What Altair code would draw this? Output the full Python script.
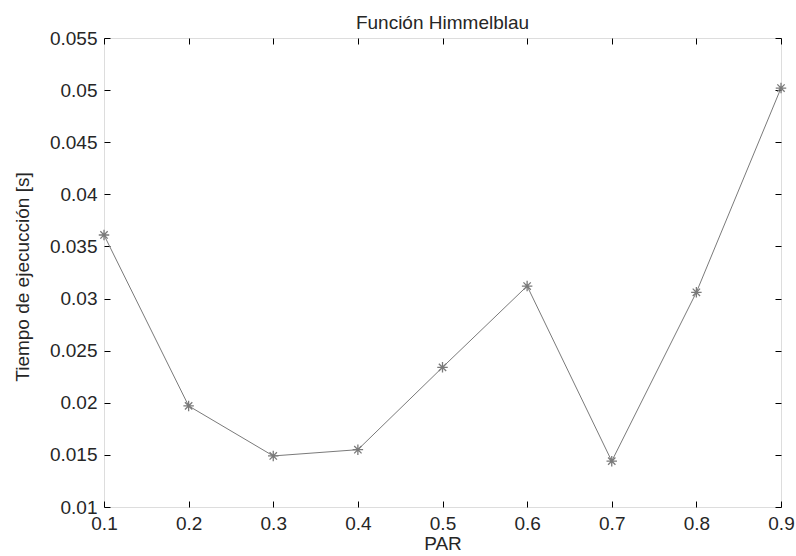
import altair as alt
import pandas as pd

# PAR parameter and measured execution time (seconds)
par = [0.1, 0.2, 0.3, 0.4, 0.5, 0.6, 0.7, 0.8, 0.9]
tiempo = [0.0361, 0.0197, 0.0149, 0.0155, 0.0234, 0.0312, 0.0144, 0.0306, 0.0502]

x_ticks = [0.1, 0.2, 0.3, 0.4, 0.5, 0.6, 0.7, 0.8, 0.9]
y_ticks = [0.01, 0.015, 0.02, 0.025, 0.03, 0.035, 0.04, 0.045, 0.05, 0.055]

df = pd.DataFrame({"par": par, "tiempo": tiempo})

W, H = 677, 469
FONT = "Liberation Sans"
FS = 19
TXT = "#262626"
GRAY = "#7a7a7a"

xs = alt.Scale(domain=[0.1, 0.9], nice=False, zero=False)
ys = alt.Scale(domain=[0.01, 0.055], nice=False, zero=False)

ASTERISK = "M-1,0L1,0M0,-1L0,1M-0.7,-0.7L0.7,0.7M-0.7,0.7L0.7,-0.7"

# main line with labelled axes (labels only; ticks come from the frame axes)
line = alt.Chart(df).mark_line(color=GRAY, strokeWidth=1).encode(
    x=alt.X("par:Q", scale=xs, title="PAR",
            axis=alt.Axis(values=x_ticks, format=".1f", ticks=False, domain=False,
                          grid=False, labelPadding=7, labelFlush=False,
                          labelFontSize=FS, labelFont=FONT, labelColor=TXT,
                          titleFontSize=FS, titleFont=FONT, titleFontWeight="normal",
                          titleColor=TXT, titlePadding=1)),
    y=alt.Y("tiempo:Q", scale=ys, title="Tiempo de ejecucción [s]",
            axis=alt.Axis(values=y_ticks, format=".3~f", ticks=False, domain=False,
                          grid=False, labelPadding=7, labelFlush=False,
                          labelFontSize=FS, labelFont=FONT, labelColor=TXT,
                          titleFontSize=FS, titleFont=FONT, titleFontWeight="normal",
                          titleColor=TXT, titleX=-76, titleY=H / 2 + 4,
                          titleBaseline="alphabetic", titleAngle=270)),
)

# asterisk markers; their axes supply the inward ticks on the bottom and left edges
points = alt.Chart(df).mark_point(shape=ASTERISK, size=110, filled=False,
                                  color=GRAY, strokeWidth=1.3, opacity=1).encode(
    x=alt.X("par:Q", scale=xs,
            axis=alt.Axis(orient="top", offset=-H, values=x_ticks, labels=False,
                          domain=False, grid=False, tickSize=6, tickColor="#000",
                          title=None)),
    y=alt.Y("tiempo:Q", scale=ys,
            axis=alt.Axis(orient="right", offset=-W, values=y_ticks, labels=False,
                          domain=False, grid=False, tickSize=6, tickColor="#000",
                          title=None)),
)

# invisible layer whose axes give the inward ticks on the top and right edges
frame = alt.Chart(df).mark_point(opacity=0).encode(
    x=alt.X("par:Q", scale=xs,
            axis=alt.Axis(orient="bottom", offset=-H, values=x_ticks, labels=False,
                          domain=False, grid=False, tickSize=6, tickColor="#000",
                          title=None)),
    y=alt.Y("tiempo:Q", scale=ys,
            axis=alt.Axis(orient="left", offset=-W, values=y_ticks, labels=False,
                          domain=False, grid=False, tickSize=6, tickColor="#000",
                          title=None)),
)

chart = alt.layer(line, points, frame).resolve_axis(
    x="independent", y="independent"
).properties(
    width=W,
    height=H,
    title=alt.TitleParams("Función Himmelblau", fontSize=FS, font=FONT,
                          fontWeight="normal", color=TXT, offset=-4),
    autosize=alt.AutoSizeParams(type="none"),
    padding={"left": 104, "top": 38, "right": 15, "bottom": 49},
).configure_view(
    stroke="#000", strokeWidth=1.3
).configure(background="white")

chart.save("out.html", embed_options={"renderer": "svg", "actions": False})
